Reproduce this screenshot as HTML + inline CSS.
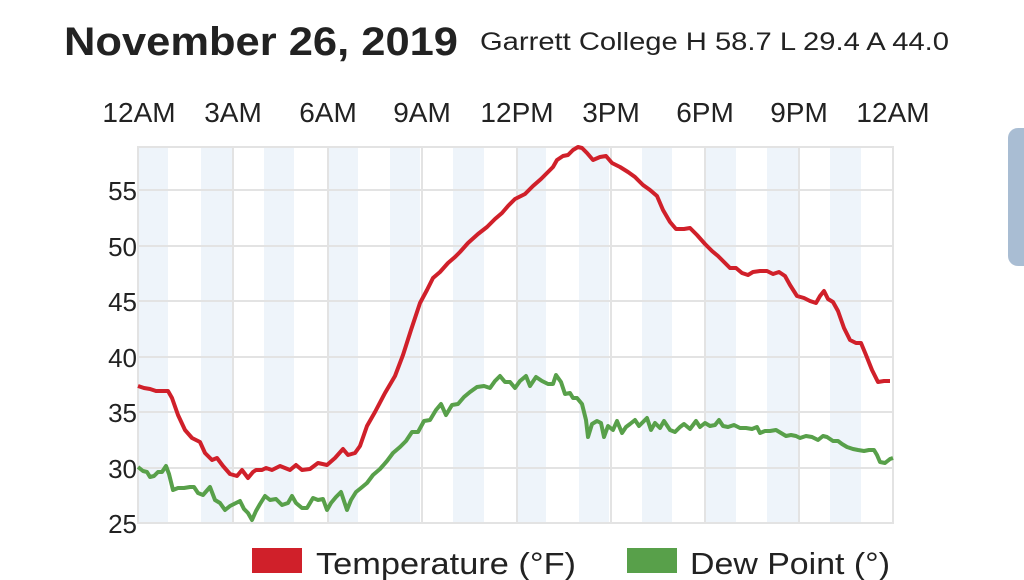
<!DOCTYPE html>
<html><head><meta charset="utf-8"><style>
html,body{margin:0;padding:0;background:#fff;width:1024px;height:580px;overflow:hidden}
text{font-family:"Liberation Sans",Arial,sans-serif;fill:#222}
</style></head><body>
<svg width="1024" height="580" viewBox="0 0 1024 580" xmlns="http://www.w3.org/2000/svg">
<rect width="1024" height="580" fill="#fff"/>
<rect x="1008" y="128" width="30" height="138" rx="10" fill="#a9bdd3"/>
<text x="64" y="55" font-size="40" font-weight="bold" textLength="394" lengthAdjust="spacingAndGlyphs">November 26, 2019</text>
<text x="480" y="50" font-size="25" textLength="469" lengthAdjust="spacingAndGlyphs">Garrett College H 58.7 L 29.4 A 44.0</text>
<g font-size="28" text-anchor="middle">
<text x="139" y="122">12AM</text><text x="233" y="122">3AM</text><text x="328" y="122">6AM</text><text x="422" y="122">9AM</text><text x="517" y="122">12PM</text><text x="611" y="122">3PM</text><text x="705" y="122">6PM</text><text x="799" y="122">9PM</text><text x="893" y="122">12AM</text>
</g>
<g fill="#eef4fa">
<rect x="138" y="147" width="30" height="376"/><rect x="201" y="147" width="31" height="376"/><rect x="264" y="147" width="30" height="376"/><rect x="328" y="147" width="30" height="376"/><rect x="390" y="147" width="30" height="376"/><rect x="453" y="147" width="31" height="376"/><rect x="516" y="147" width="30" height="376"/><rect x="579" y="147" width="30" height="376"/><rect x="642" y="147" width="30" height="376"/><rect x="706" y="147" width="30" height="376"/><rect x="767" y="147" width="31" height="376"/><rect x="830" y="147" width="31" height="376"/>
</g>
<g stroke="#e3e3e3" stroke-width="2" fill="none">
<rect x="138" y="147" width="755" height="376"/>
<path d="M233 147V523M328 147V523M422 147V523M517 147V523M611 147V523M705 147V523M799 147V523"/>
<path d="M138 190H893M138 246H893M138 301H893M138 357H893M138 412H893M138 468H893"/>
</g>
<g font-size="26" text-anchor="end">
<text x="137" y="200">55</text><text x="137" y="256">50</text><text x="137" y="311">45</text><text x="137" y="367">40</text><text x="137" y="422">35</text><text x="137" y="478">30</text><text x="137" y="533">25</text>
</g>
<polyline fill="none" stroke="#d0202a" stroke-width="4" stroke-linejoin="round" points="138,386 144,388 150,389 156,391 162,391 168,391 172,398 178,415 185,430 192,438 200,442 205,453 212,460 217,458 223,466 230,474 237,476 242,470 248,478 253,472 256,470 262,470 266,468 272,470 280,466 285,468 290,470 296,465 302,470 310,469 318,463 327,465 335,458 343,449 348,455 355,453 360,446 367,426 375,412 385,393 395,376 403,355 411,330 420,303 427,290 433,278 440,272 448,263 455,257 460,252 468,243 478,234 487,227 495,219 502,213 508,206 515,199 525,194 533,186 541,179 548,172 553,167 557,160 563,156 568,155 573,150 578,147 582,148 587,153 593,160 600,157 606,156 612,163 620,167 628,172 635,177 643,185 650,190 657,196 663,210 670,222 676,229 684,229 690,228 697,235 705,244 712,251 718,256 724,262 730,268 736,268 742,273 748,275 753,272 760,271 767,271 773,274 779,272 785,276 790,285 797,296 804,298 810,301 816,303 820,296 824,291 828,299 833,302 838,311 844,328 850,340 856,343 861,343 866,355 872,370 878,382 884,381 890,381"/>
<polyline fill="none" stroke="#58a04a" stroke-width="4" stroke-linejoin="round" points="138,467 143,471 147,472 150,477 154,476 158,472 162,472 166,466 169,474 173,490 178,488 184,488 190,487 194,487 198,493 203,495 210,487 215,500 220,503 225,510 230,506 236,503 240,501 244,509 248,513 252,520 256,511 260,504 265,496 270,500 276,499 282,505 288,503 292,496 296,503 302,508 307,508 313,498 318,500 323,499 327,510 331,503 336,497 341,492 347,510 351,500 356,492 361,488 367,483 373,475 380,469 387,461 393,453 400,447 406,441 412,432 418,432 424,421 430,420 436,410 441,404 446,415 452,405 458,404 464,397 470,392 477,387 484,386 490,388 495,381 500,376 505,382 510,382 515,388 520,381 526,376 530,386 536,377 542,381 548,384 553,384 556,375 561,382 565,394 570,393 573,398 577,398 582,404 586,420 588,437 592,424 597,421 601,423 604,437 608,426 613,430 617,421 622,433 626,427 630,424 635,420 639,426 643,422 647,418 651,430 655,423 660,428 664,421 670,430 675,432 680,427 684,424 690,429 696,421 700,427 705,423 710,426 715,425 719,420 723,426 728,427 734,425 740,428 746,428 752,429 757,427 760,433 765,431 770,431 776,430 781,433 786,436 791,435 796,436 800,438 806,436 812,437 818,440 823,436 827,437 833,441 838,441 842,444 847,447 853,449 858,450 864,451 869,450 874,450 877,455 880,462 885,463 890,459 893,458"/>
<rect x="252" y="548" width="50" height="25" fill="#d0202a"/>
<text x="316" y="574" font-size="31" textLength="260" lengthAdjust="spacingAndGlyphs">Temperature (°F)</text>
<rect x="627" y="548" width="50" height="25" fill="#58a04a"/>
<text x="690" y="574" font-size="31" textLength="200" lengthAdjust="spacingAndGlyphs">Dew Point (°)</text>
</svg>
</body></html>
